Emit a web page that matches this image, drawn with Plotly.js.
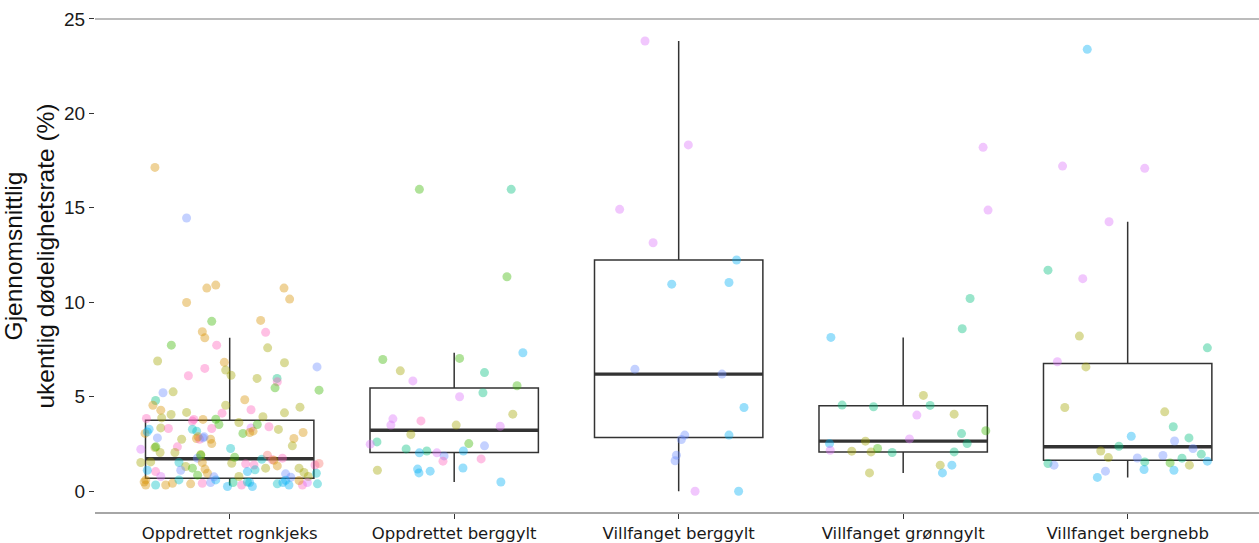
<!DOCTYPE html>
<html>
<head>
<meta charset="utf-8">
<script src="https://cdn.plot.ly/plotly-3.0.1.min.js"></script>
<style>html,body{margin:0;padding:0;background:#fff;}#chart{width:1259px;height:543px;}</style>
</head>
<body>
<div id="chart"></div>
<script>
// Categories
var categories = ["Oppdrettet rognkjeks", "Oppdrettet berggylt", "Villfanget berggylt", "Villfanget grønngylt", "Villfanget bergnebb"];

// Box statistics
var q1 = [0.68, 2.05, 2.84, 2.08, 1.64];
var medians = [1.72, 3.23, 6.20, 2.65, 2.35];
var q3 = [3.76, 5.46, 12.24, 4.52, 6.76];
var lowerWhisker = [0.30, 0.49, 0.00, 0.97, 0.73];
var upperWhisker = [8.12, 7.33, 23.83, 8.14, 14.26];

// Group colour palette (hue scale)
var groupColors = ["#F8766D", "#D89000", "#A3A500", "#39B600", "#00BF7D", "#00BFC4", "#00B0F6", "#6B8CFF", "#DB72FB", "#FF62BC"];

// Observations per category: value, jitter offset (as read), colour group
var rognkjeksVals = [17.14,14.46,10.75,10.91,9.99,10.75,10.17,8.99,9.04,8.41,8.44,8.12,7.73,7.73,7.59,6.89,6.82,6.8,6.58,6.5,6.41,6.14,6.11,5.97,5.97,5.79,5.47,5.35,5.21,5.26,4.8,4.55,4.29,4.84,4.31,4.55,4.45,4.06,4.17,4.13,4.15,3.85,3.8,3.81,3.8,3.94,3.88,3.71,3.53,3.64,3.35,3.18,3.53,3.41,3.27,3.28,3.35,3.32,3.06,2.82,3.28,3.18,3.32,3.06,3.11,2.75,2.79,2.75,2.82,2.75,2.52,2.79,3.11,2.4,2.22,2.31,2.35,2.05,2.05,1.94,2.26,1.52,1.75,1.52,1.31,1.22,1.52,1.17,0.95,1.48,1.8,1.45,1.39,1.13,1.04,1.22,1.66,1.34,1.75,1.69,1.22,0.99,0.78,1.39,0.95,0.92,0.74,1.04,0.78,0.6,0.33,0.33,0.33,0.42,0.6,0.39,0.42,0.46,0.6,0.25,0.46,0.78,0.33,0.46,0.25,0.39,0.46,0.33,0.33,0.46,0.39,0.57,3.14,2.35,2.88,2.88,1.55,1.91,1.91,1.64,1.11,1.11,0.85,0.76,0.49,0.58,0.49,1.47];
var rognkjeksJitter = [-0.333,-0.192,-0.102,-0.062,-0.192,0.242,0.267,-0.08,0.138,0.16,-0.122,-0.111,-0.26,-0.058,0.169,-0.321,-0.024,0.244,0.389,-0.111,-0.018,0.006,-0.184,0.122,0.211,0.212,0.202,0.398,-0.297,-0.252,-0.33,-0.342,-0.307,0.067,0.095,-0.018,0.313,-0.261,-0.192,-0.034,0.244,-0.371,-0.119,-0.062,-0.16,0.148,-0.303,-0.166,-0.048,0.041,0.095,0.104,0.123,0.175,0.217,-0.359,-0.307,-0.273,-0.377,-0.322,-0.166,-0.147,-0.08,0.059,0.089,-0.214,-0.148,-0.134,-0.119,-0.085,-0.08,0.286,0.327,0.279,-0.396,-0.333,-0.233,-0.31,-0.244,-0.129,0.004,-0.396,-0.144,-0.226,-0.196,-0.166,-0.122,-0.11,-0.099,0.009,0.022,0.071,0.108,0.113,0.079,0.16,0.19,0.212,0.235,0.143,0.309,0.331,0.35,0.38,0.386,0.249,0.272,-0.33,-0.307,-0.374,-0.374,-0.33,-0.285,-0.255,-0.226,-0.174,-0.122,-0.085,-0.062,-0.01,0.015,0.041,0.053,0.089,0.101,0.212,0.237,0.264,0.324,0.346,0.391,0.309,-0.367,-0.329,-0.141,-0.114,-0.352,-0.129,0.168,0.197,-0.367,-0.218,-0.143,-0.070,0.079,0.249,-0.381,0.398];
var rognkjeksGroup = [1,7,1,1,1,1,1,3,1,9,1,1,3,9,2,2,1,2,7,9,2,2,9,2,4,9,3,3,7,2,4,1,1,1,9,2,2,2,2,9,2,9,1,3,9,2,2,9,3,2,8,1,3,9,2,6,2,9,1,7,5,5,9,3,1,2,1,9,7,1,1,1,1,2,8,2,9,2,2,2,5,2,7,5,2,3,1,1,1,2,3,9,9,5,6,2,9,1,9,5,2,2,2,9,5,7,7,9,8,1,1,5,1,1,5,1,9,7,6,6,4,2,9,6,6,5,6,6,9,8,5,1,6,3,1,7,2,3,0,1,6,7,3,7,5,6,1,0];

var berggyltVals = [15.98,15.98,11.35,6.97,7.03,7.33,6.37,5.84,6.28,5.58,5.21,5.0,4.08,3.83,3.5,3.72,3.5,3.44,3.0,2.61,2.49,2.52,2.4,2.24,2.13,2.03,2.03,1.87,2.13,1.59,1.71,1.11,1.17,0.97,1.06,1.23,0.49];
var berggyltJitter = [-0.155,0.254,0.235,-0.318,0.024,0.306,-0.24,-0.184,0.135,0.28,0.128,0.024,0.261,-0.273,-0.282,-0.148,0.009,0.205,-0.193,-0.344,-0.374,0.065,0.135,-0.214,-0.122,-0.155,-0.077,-0.045,0.041,-0.05,0.12,-0.342,-0.163,-0.157,-0.107,0.039,0.208];
var berggyltGroup = [3,4,3,3,3,6,2,8,4,3,4,8,2,8,8,9,2,8,2,4,8,3,7,4,4,6,8,7,6,9,9,2,6,6,6,6,6];

var villBerggyltVals = [23.83,18.33,14.92,13.15,12.24,10.96,11.05,6.46,6.2,4.43,2.97,2.97,2.74,1.91,1.61,0,0];
var villBerggyltJitter = [-0.15,0.043,-0.263,-0.114,0.258,-0.031,0.224,-0.195,0.193,0.291,0.224,0.027,0.012,-0.01,-0.016,0.073,0.267];
var villBerggyltGroup = [8,8,8,8,6,6,6,7,7,6,6,7,7,7,7,8,6];

var gronngyltVals = [18.2,14.88,10.2,8.6,8.14,5.07,4.54,4.56,4.47,4.08,4.03,3.05,3.2,2.77,2.52,2.65,2.52,2.17,2.12,2.08,2.26,2.05,2.08,1.38,1.38,0.97,0.97];
var gronngyltJitter = [0.356,0.378,0.298,0.263,-0.322,0.09,0.12,-0.272,-0.132,0.227,0.061,0.26,0.368,0.028,0.285,-0.168,-0.328,-0.325,-0.229,-0.143,-0.114,-0.049,0.227,0.165,0.217,0.175,-0.15];
var gronngyltGroup = [8,8,4,4,6,2,4,4,4,2,8,4,3,8,4,2,6,8,2,2,3,4,4,2,6,6,2];

var bergnebbVals = [23.39,17.21,17.09,14.26,11.7,11.25,8.21,7.59,6.85,6.58,4.43,4.2,3.41,2.91,2.82,2.66,2.38,2.26,2.13,1.78,1.96,1.76,1.89,1.75,1.55,1.5,1.38,1.59,1.47,1.38,1.15,1.11,1.06,0.73];
var bergnebbJitter = [-0.18,-0.29,0.076,-0.083,-0.355,-0.2,-0.215,0.355,-0.313,-0.186,-0.28,0.165,0.203,0.016,0.273,0.209,-0.039,0.291,-0.12,-0.086,0.328,0.043,0.157,0.242,0.076,0.189,0.275,0.355,-0.355,-0.328,0.073,0.206,-0.099,-0.135];
var bergnebbGroup = [6,8,8,8,4,8,2,4,8,2,2,2,4,6,4,7,4,7,2,2,4,7,7,4,4,3,2,6,4,7,6,6,7,6];

var refLineValue = 25;
var yTicks = [0, 5, 10, 15, 20, 25];

// ---------- build traces ----------
var pointSets = [
  [rognkjeksVals, rognkjeksJitter, rognkjeksGroup],
  [berggyltVals, berggyltJitter, berggyltGroup],
  [villBerggyltVals, villBerggyltJitter, villBerggyltGroup],
  [gronngyltVals, gronngyltJitter, gronngyltGroup],
  [bergnebbVals, bergnebbJitter, bergnebbGroup]
];
var positions = categories.map(function(c, i){ return i; });
var boxWidth = 0.75;

function hexToRgba(hex, a){
  var r = parseInt(hex.substr(1,2),16), g = parseInt(hex.substr(3,2),16), b = parseInt(hex.substr(5,2),16);
  return 'rgba('+r+','+g+','+b+','+a+')';
}

var traces = [];
traces.push({
  type: 'box',
  x: positions,
  q1: q1, median: medians, q3: q3,
  lowerfence: lowerWhisker, upperfence: upperWhisker,
  width: boxWidth,
  whiskerwidth: 0,
  boxpoints: false,
  fillcolor: 'rgba(255,255,255,0)',
  line: {color: '#333333', width: 1.5},
  hoverinfo: 'skip',
  showlegend: false
});

var mx = [], my = [];
medians.forEach(function(m, i){
  mx.push(i - boxWidth/2, i + boxWidth/2, null);
  my.push(m, m, null);
});
traces.push({
  type: 'scatter', mode: 'lines', x: mx, y: my,
  line: {color: '#333333', width: 3.4}, hoverinfo: 'skip', showlegend: false
});

pointSets.forEach(function(set, i){
  var vals = set[0], jit = set[1], grp = set[2];
  traces.push({
    type: 'scatter', mode: 'markers',
    x: vals.map(function(v, k){ return i + jit[k]; }),
    y: vals,
    marker: {
      size: 9,
      color: grp.map(function(g){ return hexToRgba(groupColors[g], 0.4); }),
      line: {width: 0}
    },
    hoverinfo: 'y',
    showlegend: false
  });
});

var layout = {
  width: 1259, height: 543,
  margin: {l: 95, r: 0, t: 0, b: 31},
  paper_bgcolor: '#ffffff', plot_bgcolor: '#ffffff',
  font: {family: '"Liberation Sans", Arial, sans-serif', color: '#1a1a1a'},
  showlegend: false,
  xaxis: {
    type: 'linear',
    range: [-0.6, 4.585],
    tickvals: positions,
    ticktext: categories,
    ticks: 'outside', ticklen: 5, tickwidth: 1.3, tickcolor: '#333333',
    showline: true, linecolor: '#a6a6a6', linewidth: 1.5,
    showgrid: false, zeroline: false,
    tickfont: {family: '"DejaVu Sans", Verdana, sans-serif', size: 16.5, color: '#1a1a1a'}
  },
  yaxis: {
    range: [-1.1, 26],
    tickvals: yTicks,
    ticktext: yTicks.map(String),
    ticks: 'outside', ticklen: 5, tickwidth: 1.3, tickcolor: '#333333',
    showline: false, showgrid: false, zeroline: false,
    tickfont: {size: 19, color: '#1a1a1a'},
    title: {text: 'Gjennomsnittlig<br>ukentlig dødelighetsrate (%)', font: {size: 24.5, color: '#111111'}, standoff: 8}
  },
  shapes: [{
    type: 'line', xref: 'paper', yref: 'y', x0: 0, x1: 1, y0: refLineValue, y1: refLineValue,
    line: {color: '#a6a6a6', width: 1.5}, layer: 'below'
  }]
};

Plotly.newPlot('chart', traces, layout, {displayModeBar: false, responsive: false});
</script>
</body>
</html>
